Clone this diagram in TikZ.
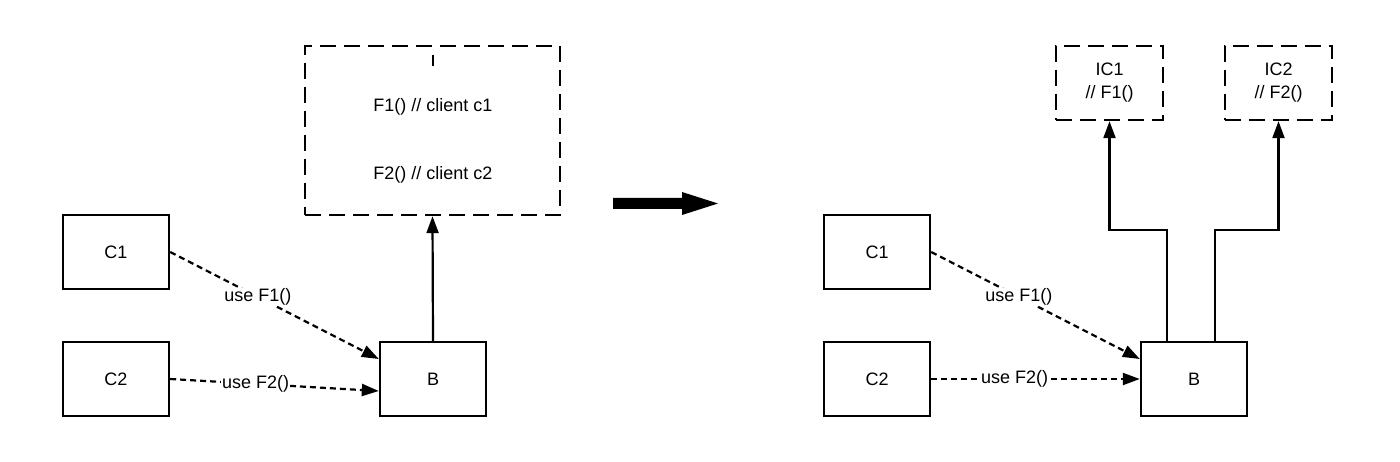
\documentclass[tikz,border=0pt]{standalone}
\usepackage{fontspec}
\setmainfont{Liberation Sans}
\usetikzlibrary{arrows.meta,calc}
\tikzset{
  box/.style={draw, line width=2.4pt, minimum width=106pt, minimum height=74pt, inner sep=0pt, font=\fontsize{18}{21}\selectfont},
  dbox/.style={draw, line width=2.4pt, dash pattern=on 16pt off 8pt, inner sep=0pt, align=center, font=\fontsize{18}{23}\selectfont},
  txt/.style={inner sep=0pt, font=\fontsize{18}{21}\selectfont},
  uses/.style={line width=2.2pt, dash pattern=on 6pt off 4pt, -{Triangle[length=17pt,width=12pt]}},
  solid arrow/.style={line width=2.2pt, -{Triangle[length=17pt,width=12pt]}},
  lbl/.style={fill=white, inner sep=1pt, font=\fontsize{18}{21}\selectfont},
}
\begin{document}
\begin{tikzpicture}[x=1pt,y=-1pt]
\useasboundingbox (0,0) rectangle (1400,462);
% ---- left diagram ----
\node[dbox, minimum width=255pt, minimum height=169pt] (iface) at (432.5,130.5) {};
\node[txt] (f1) at (433,107) {F1() // client c1};
\node[txt] (f2) at (433,175) {F2() // client c2};
\coordinate (tickA) at (433,55);
\coordinate (tickB) at (433,66);
\draw[line width=1.8pt] (tickA) -- (tickB);
\node[box] (c1) at (116,252) {C1};
\node[box] (c2) at (116,379) {C2};
\node[box] (b) at (433,379) {B};
\draw[solid arrow] (b.north) -- (iface.south);
\draw[uses] (c1.east) -- node[lbl, pos=0.42] {use F1()} ([yshift=20pt]b.west);
\draw[uses] (c2.east) -- node[lbl, pos=0.41] {use F2()} ([yshift=-12pt]b.west);
% ---- big arrow ----
\fill (613,198) -- (682,198) -- (682,192) -- (718,203.5) -- (682,215) -- (682,209) -- (613,209) -- cycle;
% ---- right diagram ----
\node[dbox, minimum width=107pt, minimum height=74pt] (ic1) at (1109.5,83) {IC1\\// F1()};
\node[dbox, minimum width=107pt, minimum height=74pt] (ic2) at (1278.5,83) {IC2\\// F2()};
\node[box] (rc1) at (877,252) {C1};
\node[box] (rc2) at (877,379) {C2};
\node[box] (rb) at (1194,379) {B};
\draw[uses] (rc1.east) -- node[lbl, pos=0.42] {use F1()} ([yshift=20pt]rb.west);
\draw[uses] (rc2.east) -- node[lbl, pos=0.4] {use F2()} (rb.west);
\draw[solid arrow] ([xshift=-27pt]rb.north) -- ++(0,-111) -| (ic1.south);
\draw[solid arrow] ([xshift=21pt]rb.north) -- ++(0,-111) -| (ic2.south);
\end{tikzpicture}
\end{document}
